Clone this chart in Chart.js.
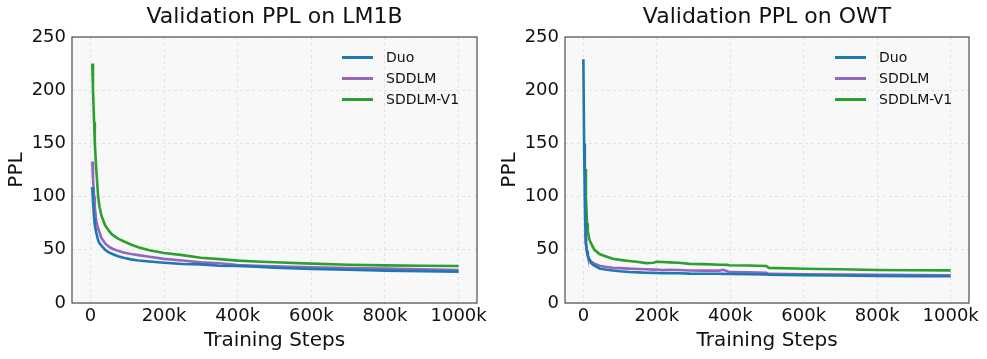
<!DOCTYPE html>
<html>
<head>
<meta charset="utf-8">
<script src="https://cdn.jsdelivr.net/npm/chart.js@4.4.0/dist/chart.umd.min.js"></script>
<style>
  html, body { margin: 0; padding: 0; background: #fff; }
  body { width: 987px; height: 359px; position: relative; overflow: hidden; font-family: "DejaVu Sans", sans-serif; }
  .panel { position: absolute; top: 0; height: 359px; }
  .legend { position: absolute; font-family: "DejaVu Sans", sans-serif; font-size: 14px; color: #111; }
  .legend .row { position: relative; height: 21px; line-height: 21px; }
  .legend .swatch { position: absolute; left: 0; top: 9px; width: 31px; height: 2.6px; }
  .legend .lbl { position: absolute; left: 44px; top: 0; white-space: nowrap; }
</style>
</head>
<body>
<div class="panel" id="p1" style="left:0;width:493px;">
  <canvas id="c1" width="493" height="359"></canvas>
  <div class="legend" id="l1" style="left:342px;top:47px;"></div>
</div>
<div class="panel" id="p2" style="left:493px;width:494px;">
  <canvas id="c2" width="494" height="359"></canvas>
  <div class="legend" id="l2" style="left:342px;top:47px;"></div>
</div>
<script>
// ---- data ----
const seriesNames = ['Duo', 'SDDLM', 'SDDLM-V1'];
const seriesColors = ['#1f77b4', '#9467bd', '#2ca02c'];

const xTicks = [0, 200000, 400000, 600000, 800000, 1000000];
const xTickLabels = ['0', '200k', '400k', '600k', '800k', '1000k'];
const yTicks = [0, 50, 100, 150, 200, 250];

// LM1B
const lm1bSteps = [5000, 7000, 10000, 12000, 16000, 21000, 25000, 30000, 40000, 50000, 60000, 75000, 90000, 110000, 130000, 160000, 200000, 250000, 300000, 350000, 400000, 450000, 500000, 600000, 700000, 800000, 900000, 1000000];
const lm1bDuo   = [109, 96, 80, 73, 66, 59, 56, 54, 50, 47.5, 46, 44, 42.5, 41, 40, 39, 37.8, 36.6, 36.3, 35, 34.8, 34, 33.2, 32, 31.2, 30.4, 30, 29.5];
const lm1bSddlm = [133, 117, 100, 90, 77, 70, 66, 61, 56, 53, 51, 49, 47.5, 46, 45, 43.5, 41.5, 40, 38.2, 37.3, 35.7, 35, 34.5, 33.5, 32.8, 32.3, 31.6, 31];
const lm1bV1    = [225, 200, 170, 150, 125, 100, 90, 82, 73, 68, 64, 60.5, 58, 55, 52.5, 49.5, 47, 45, 42.6, 41.2, 39.8, 39, 38.3, 37, 36, 35.4, 35, 34.8];

// OWT
const owtSteps = [0, 2000, 4000, 5000, 7000, 10000, 12000, 16000, 21000, 30000, 44000, 60000, 80000, 100000, 125000, 150000, 171000, 190000, 200000, 215000, 234000, 260000, 289000, 330000, 370000, 380000, 390000, 398000, 450000, 498000, 505000, 600000, 700000, 800000, 900000, 1000000];
const owtDuo   = [229, 150, 95, 75, 56, 49, 45, 41, 37.5, 35, 32.5, 31.5, 30.5, 29.8, 29.2, 28.8, 28.5, 28.3, 28.2, 28.1, 28, 27.9, 27.6, 27.5, 27.5, 27.4, 27.3, 27.3, 27, 26.9, 26.5, 26.2, 25.9, 25.5, 25.3, 25.1];
const owtSddlm = [null, null, null, 66, 55, 47, 44, 41, 39, 37, 35, 34, 33.2, 32.8, 32.3, 32, 31.7, 31.4, 31.5, 31, 31.2, 31, 30.6, 30.4, 30.4, 31.2, 30, 29, 28.8, 28.4, 27.4, 27, 26.8, 26.6, 26.3, 26];
const owtV1    = [null, null, null, 126, 100, 75, 68, 60, 56, 50, 46, 44, 41.5, 40.5, 39.5, 38.5, 37.5, 37.8, 38.8, 38.5, 38.2, 37.8, 36.8, 36.5, 36, 36, 35.8, 35.5, 35.2, 34.8, 33, 32.2, 31.7, 31, 30.8, 30.7];

// ---- build ----
function pts(steps, vals) {
  return steps.map((s, i) => ({ x: s, y: vals[i] })).filter(p => p.y !== null);
}

const areaPlugin = {
  id: 'areaPlugin',
  beforeDraw(chart) {
    const { ctx, chartArea: a } = chart;
    ctx.save();
    ctx.fillStyle = '#f8f8f8';
    ctx.fillRect(a.left, a.top, a.right - a.left, a.bottom - a.top);
    ctx.restore();
  },
  afterDraw(chart) {
    const { ctx, chartArea: a } = chart;
    ctx.save();
    ctx.strokeStyle = '#5a5a5a';
    ctx.lineWidth = 1.3;
    ctx.strokeRect(a.left, a.top, a.right - a.left, a.bottom - a.top);
    ctx.restore();
  }
};

function makeChart(canvasId, title, stepsArr, seriesVals, yAxisWidth, rightPad) {
  const datasets = seriesVals.map((vals, i) => ({
    label: seriesNames[i],
    data: pts(stepsArr, vals),
    borderColor: seriesColors[i],
    backgroundColor: seriesColors[i],
    borderWidth: 2.6,
    pointRadius: 0,
    tension: 0,
    fill: false
  }));
  return new Chart(document.getElementById(canvasId), {
    type: 'line',
    data: { datasets },
    options: {
      responsive: false,
      animation: false,
      devicePixelRatio: 1,
      layout: { padding: { left: 0, right: rightPad, top: 0, bottom: 0 } },
      plugins: {
        legend: { display: false },
        tooltip: { enabled: false },
        title: {
          display: true,
          fullSize: false,
          text: title,
          color: '#111',
          font: { family: 'DejaVu Sans', size: 22, weight: 'normal' },
          padding: { top: 4, bottom: 6.6 }
        }
      },
      scales: {
        x: {
          type: 'linear',
          min: -50000,
          max: 1050000,
          afterBuildTicks(scale) { scale.ticks = xTicks.map(v => ({ value: v })); },
          afterFit(scale) { scale.height = 56; },
          ticks: {
            color: '#111',
            font: { family: 'DejaVu Sans', size: 18 },
            padding: 3,
            maxRotation: 0,
            autoSkip: false,
            callback: (v) => xTickLabels[xTicks.indexOf(v)]
          },
          grid: { color: '#dedede', lineWidth: 0.8, drawTicks: false },
          border: { display: false, dash: [3, 3] },
          title: {
            display: true,
            text: 'Training Steps',
            color: '#111',
            font: { family: 'DejaVu Sans', size: 20 },
            padding: { top: 0, bottom: 6 }
          }
        },
        y: {
          min: 0,
          max: 250,
          afterBuildTicks(scale) { scale.ticks = yTicks.map(v => ({ value: v })); },
          afterFit(scale) { scale.width = yAxisWidth; },
          ticks: {
            color: '#111',
            font: { family: 'DejaVu Sans', size: 18 },
            padding: 6
          },
          grid: { color: '#dedede', lineWidth: 0.8, drawTicks: false },
          border: { display: false, dash: [3, 3] },
          title: {
            display: true,
            text: 'PPL',
            color: '#111',
            font: { family: 'DejaVu Sans', size: 20 },
            padding: { top: 5, bottom: 0 }
          }
        }
      }
    },
    plugins: [areaPlugin]
  });
}

function buildLegend(id) {
  const el = document.getElementById(id);
  seriesNames.forEach((n, i) => {
    const row = document.createElement('div');
    row.className = 'row';
    const sw = document.createElement('div');
    sw.className = 'swatch';
    sw.style.background = seriesColors[i];
    const lb = document.createElement('div');
    lb.className = 'lbl';
    lb.textContent = n;
    row.appendChild(sw);
    row.appendChild(lb);
    el.appendChild(row);
  });
}

makeChart('c1', 'Validation PPL on LM1B', lm1bSteps, [lm1bDuo, lm1bSddlm, lm1bV1], 72, 16);
makeChart('c2', 'Validation PPL on OWT', owtSteps, [owtDuo, owtSddlm, owtV1], 72, 18);
buildLegend('l1');
buildLegend('l2');
</script>
</body>
</html>
